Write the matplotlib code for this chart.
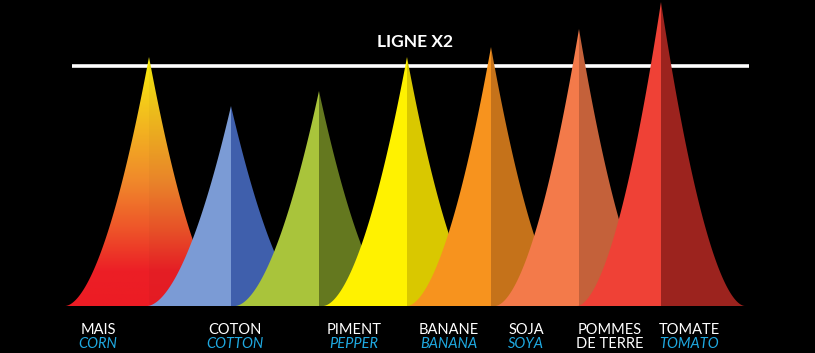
"""Crop light requirement peaks vs the 'Ligne X2' reference level."""

import matplotlib

matplotlib.use("Agg")
import matplotlib.pyplot as plt
import numpy as np
from matplotlib.colors import LinearSegmentedColormap, to_rgb
from matplotlib.patches import Polygon

# --- data -------------------------------------------------------------------
crops_fr = ["MAIS", "COTON", "PIMENT", "BANANE", "SOJA", "POMMES\nDE TERRE", "TOMATE"]
crops_en = ["CORN", "COTTON", "PEPPER", "BANANA", "SOYA", "", "TOMATO"]
peak_pos = [149, 231, 319, 407, 491, 579, 661]
peak_height = [249, 200, 215, 249, 259, 277, 304]
line_x2 = 240

# --- style ------------------------------------------------------------------
LEFT_COLORS = [None, "#7b9bd5", "#a9c43b", "#fff200", "#f7931e", "#f37a4a", "#ef4136"]
RIGHT_COLORS = [None, "#3f5fac", "#64781f", "#d9c800", "#c5721a", "#c4613a", "#9c231e"]
LABEL_X = [98, 235, 354, 449, 526, 610, 689]
HALF_WIDTH = 84
POWER = 1.8
CYAN = "#1fa9e1"

plt.rcParams["font.family"] = ["Lato", "DejaVu Sans"]


def peak_profile(t):
    """Normalised concave falloff: 1 at the tip, 0 at the base edge."""
    return (1 - t) ** POWER


def half_polygon(x0, h, side):
    t = np.linspace(0, 1, 200)
    xs = x0 + side * t * HALF_WIDTH
    ys = h * peak_profile(t)
    pts = np.column_stack([xs, ys])
    pts = np.vstack([pts, [x0, 0]])
    return pts


fig = plt.figure(figsize=(8.15, 3.53), dpi=100, facecolor="black")
ax = fig.add_axes([0, 0, 1, 1])
ax.set_facecolor("black")
ax.set_xlim(0, 815)
ax.set_ylim(-47, 306)
ax.axis("off")

# reference line
ax.plot([72, 749], [line_x2, line_x2], color="white", linewidth=2.6,
        solid_capstyle="butt", zorder=1)
ax.text(415, 264, "LIGNE X2", color="white", fontsize=12.5, fontweight="bold",
        ha="center", va="center", zorder=20)

corn_cmap = LinearSegmentedColormap.from_list(
    "corn", [(0.0, "#ec1c24"), (0.14, "#ec1f26"), (0.3, "#ee5229"),
             (0.5, "#f0882b"), (0.78, "#f3c11d"), (1.0, "#f9ef0b")]
)

for i, (x0, h) in enumerate(zip(peak_pos, peak_height)):
    z = 2 + i
    if i == 0:
        for side, dim in ((-1, 1.0), (1, 0.97)):
            poly = Polygon(half_polygon(x0, h, side), closed=True,
                           facecolor="none", edgecolor="none", zorder=z)
            ax.add_patch(poly)
            grad = np.linspace(0, 1, 256).reshape(-1, 1)
            rgb = corn_cmap(grad)[..., :3] * dim
            x_lo, x_hi = (x0 - HALF_WIDTH, x0) if side < 0 else (x0, x0 + HALF_WIDTH)
            im = ax.imshow(rgb, extent=[x_lo, x_hi, 0, h], origin="lower",
                           aspect="auto", zorder=z, interpolation="bilinear")
            im.set_clip_path(poly)
        continue
    for side, col in ((-1, LEFT_COLORS[i]), (1, RIGHT_COLORS[i])):
        ax.add_patch(Polygon(half_polygon(x0, h, side), closed=True,
                             facecolor=to_rgb(col), edgecolor="none",
                             antialiased=True, zorder=z))

# labels
for fr, en, lx in zip(crops_fr, crops_en, LABEL_X):
    if "\n" in fr:
        top, bottom = fr.split("\n")
        ax.text(lx, -24, top, color="white", fontsize=10.5, ha="center", va="center")
        ax.text(lx, -38, bottom, color="white", fontsize=10.5, ha="center", va="center")
        continue
    ax.text(lx, -24, fr, color="white", fontsize=10.5, ha="center", va="center")
    ax.text(lx, -38, en, color=CYAN, fontsize=10.5, style="italic",
            ha="center", va="center")

fig.savefig("out.png", dpi=100, facecolor="black")
